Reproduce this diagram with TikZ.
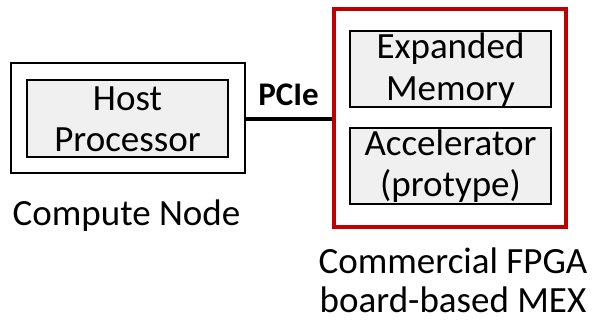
\documentclass[tikz,border=0pt]{standalone}
\usepackage{fontspec}
\setmainfont{Carlito}
\definecolor{boardred}{RGB}{192,0,0}
\definecolor{blockgray}{RGB}{240,240,240}
\begin{document}
\begin{tikzpicture}[x=1pt,y=-1pt,
  frame/.style={draw=black, line width=1.5pt, inner sep=0pt},
  block/.style={draw=black, line width=1.5pt, fill=blockgray, inner sep=0pt},
  label/.style={align=center, anchor=base, inner sep=0pt,
    font=\fontsize{37}{41}\selectfont}]
  \useasboundingbox (0,0) rectangle (595,321);
  % compute node
  \node[frame, minimum width=234pt, minimum height=110pt] (cn) at (128,118) {};
  \node[block, minimum width=201pt, minimum height=77pt] (host) at (127.5,118.5) {};
  \node[label] (hostlbl) at (127.5,151) {Host\\Processor};
  \node[label] (cnlbl) at (126.5,225) {Compute Node};
  % FPGA board
  \node[draw=boardred, line width=4pt, minimum width=232pt, minimum height=218pt, inner sep=0pt] (mex) at (450,118) {};
  \node[block, minimum width=201pt, minimum height=76pt] (mem) at (450.5,69) {};
  \node[label, font=\fontsize{37}{43}\selectfont] (memlbl) at (450.5,101) {Expanded\\Memory};
  \node[block, minimum width=201pt, minimum height=76pt] (acc) at (450.5,166) {};
  \node[label] (acclbl) at (450.5,196) {Accelerator\\(protype)};
  \node[label, font=\fontsize{37}{39}\selectfont] (mexlbl) at (453,312) {Commercial FPGA\\board-based MEX};
  % PCIe link
  \draw[line width=4pt] (cn.east |- 0,119) coordinate (pa) -- (mex.west |- 0,119) coordinate (pb);
  \node[font=\fontsize{33}{36}\selectfont\bfseries, anchor=base, inner sep=0pt] (pcie) at (288.5,106) {PCIe};
\end{tikzpicture}
\end{document}
